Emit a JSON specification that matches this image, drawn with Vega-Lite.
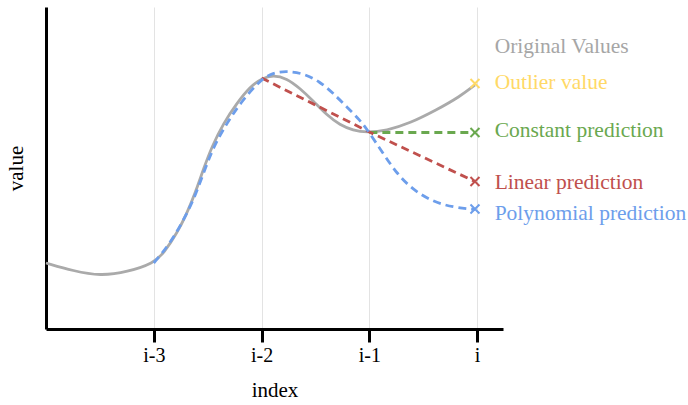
{
  "$schema": "https://vega.github.io/schema/vega-lite/v6.json",
  "width": 457,
  "height": 322,
  "autosize": {"type": "none"},
  "padding": {"left": 46, "top": 7, "right": 185, "bottom": 76},
  "background": "white",
  "config": {
    "view": {"stroke": null},
    "font": "Liberation Serif",
    "text": {"font": "Liberation Serif"}
  },
  "datasets": {
    "curves": [
      {"series": "orig", "idx": -4.0, "v": 66},
      {"series": "orig", "idx": -3.745, "v": 58},
      {"series": "orig", "idx": -3.495, "v": 53},
      {"series": "orig", "idx": -3.245, "v": 57},
      {"series": "orig", "idx": -3.0, "v": 66},
      {"series": "orig", "idx": -2.909, "v": 75.7},
      {"series": "orig", "idx": -2.785, "v": 95.7},
      {"series": "orig", "idx": -2.693, "v": 115.7},
      {"series": "orig", "idx": -2.616, "v": 135.7},
      {"series": "orig", "idx": -2.539, "v": 160},
      {"series": "orig", "idx": -2.461, "v": 182.3},
      {"series": "orig", "idx": -2.354, "v": 205.7},
      {"series": "orig", "idx": -2.23, "v": 225.7},
      {"series": "orig", "idx": -2.106, "v": 242.3},
      {"series": "orig", "idx": -1.998, "v": 250.7},
      {"series": "orig", "idx": -1.891, "v": 254},
      {"series": "orig", "idx": -1.767, "v": 250.7},
      {"series": "orig", "idx": -1.644, "v": 240.7},
      {"series": "orig", "idx": -1.52, "v": 228},
      {"series": "orig", "idx": -1.396, "v": 214},
      {"series": "orig", "idx": -1.273, "v": 204},
      {"series": "orig", "idx": -1.15, "v": 198.6},
      {"series": "orig", "idx": -1.026, "v": 196.5},
      {"series": "orig", "idx": -0.841, "v": 198.3},
      {"series": "orig", "idx": -0.625, "v": 205.7},
      {"series": "orig", "idx": -0.378, "v": 219},
      {"series": "orig", "idx": -0.162, "v": 232.3},
      {"series": "orig", "idx": -0.02, "v": 244},
      {"series": "poly", "idx": -3.0, "v": 66},
      {"series": "poly", "idx": -2.847, "v": 85.7},
      {"series": "poly", "idx": -2.724, "v": 109},
      {"series": "poly", "idx": -2.631, "v": 129},
      {"series": "poly", "idx": -2.539, "v": 155.7},
      {"series": "poly", "idx": -2.446, "v": 182.3},
      {"series": "poly", "idx": -2.322, "v": 205.7},
      {"series": "poly", "idx": -2.199, "v": 225.7},
      {"series": "poly", "idx": -2.014, "v": 249},
      {"series": "poly", "idx": -1.894, "v": 256.3},
      {"series": "poly", "idx": -1.767, "v": 258},
      {"series": "poly", "idx": -1.613, "v": 255.7},
      {"series": "poly", "idx": -1.458, "v": 247.3},
      {"series": "poly", "idx": -1.335, "v": 235.7},
      {"series": "poly", "idx": -1.211, "v": 222.3},
      {"series": "poly", "idx": -1.088, "v": 209},
      {"series": "poly", "idx": -1.011, "v": 198},
      {"series": "poly", "idx": -0.872, "v": 175.7},
      {"series": "poly", "idx": -0.748, "v": 155.7},
      {"series": "poly", "idx": -0.594, "v": 139},
      {"series": "poly", "idx": -0.409, "v": 127.3},
      {"series": "poly", "idx": -0.224, "v": 121.7},
      {"series": "poly", "idx": -0.02, "v": 119.5},
      {"series": "lin", "idx": -2.0, "v": 251},
      {"series": "lin", "idx": -1.0, "v": 197},
      {"series": "lin", "idx": -0.02, "v": 147.5},
      {"series": "const", "idx": -1.0, "v": 196.5},
      {"series": "const", "idx": -0.02, "v": 196.5}
    ],
    "markers": [
      {"label": "Outlier value", "idx": -0.02, "v": 245.5},
      {"label": "Constant prediction", "idx": -0.02, "v": 196.5},
      {"label": "Linear prediction", "idx": -0.02, "v": 147.5},
      {"label": "Polynomial prediction", "idx": -0.02, "v": 120}
    ],
    "labels": [
      {"label": "Original Values", "idx": 0, "v": 282},
      {"label": "Outlier value", "idx": 0, "v": 246},
      {"label": "Constant prediction", "idx": 0, "v": 198},
      {"label": "Linear prediction", "idx": 0, "v": 146},
      {"label": "Polynomial prediction", "idx": 0, "v": 115}
    ]
  },
  "encoding": {
    "x": {
      "field": "idx", "type": "quantitative",
      "scale": {"domain": [-4, 0.24], "nice": false, "zero": false},
      "axis": {
        "values": [-3, -2, -1, 0],
        "labelExpr": "datum.value == 0 ? 'i' : 'i' + datum.value",
        "title": "index",
        "grid": true, "gridColor": "#e3e3e3", "gridWidth": 1,
        "domainColor": "black", "domainWidth": 3,
        "tickColor": "black", "tickWidth": 3, "tickSize": 13,
        "labelFont": "Liberation Serif", "labelFontSize": 20, "labelColor": "black", "labelPadding": 3,
        "titleFont": "Liberation Serif", "titleFontSize": 21, "titleFontWeight": "normal", "titleColor": "black", "titlePadding": 14
      }
    },
    "y": {
      "field": "v", "type": "quantitative",
      "scale": {"domain": [0, 322], "nice": false, "zero": false},
      "axis": {
        "title": "value", "grid": false, "ticks": false, "labels": false,
        "domainColor": "black", "domainWidth": 3,
        "titleFont": "Liberation Serif", "titleFontSize": 21, "titleFontWeight": "normal", "titleColor": "black", "titlePadding": 20
      }
    }
  },
  "layer": [
    {
      "data": {"name": "curves"},
      "transform": [{"filter": "datum.series == 'orig'"}],
      "mark": {"type": "line", "color": "#aaaaaa", "strokeWidth": 2.8, "interpolate": "basis"}
    },
    {
      "data": {"name": "curves"},
      "transform": [{"filter": "datum.series == 'const'"}],
      "mark": {"type": "line", "color": "#6aa84f", "strokeWidth": 2.8, "strokeDash": [8, 5]}
    },
    {
      "data": {"name": "curves"},
      "transform": [{"filter": "datum.series == 'lin'"}],
      "mark": {"type": "line", "color": "#c0504d", "strokeWidth": 2.8, "strokeDash": [8, 5]}
    },
    {
      "data": {"name": "curves"},
      "transform": [{"filter": "datum.series == 'poly'"}],
      "mark": {"type": "line", "color": "#6d9eeb", "strokeWidth": 2.8, "strokeDash": [8, 5], "interpolate": "basis"}
    },
    {
      "data": {"name": "markers"},
      "mark": {"type": "point", "shape": "M-1,-1L1,1M-1,1L1,-1", "size": 81, "strokeWidth": 2, "filled": false, "opacity": 1},
      "encoding": {
        "color": {
          "field": "label", "type": "nominal", "legend": null,
          "scale": {
            "domain": ["Original Values", "Outlier value", "Constant prediction", "Linear prediction", "Polynomial prediction"],
            "range": ["#a6a6a6", "#ffd966", "#6aa84f", "#c0504d", "#6d9eeb"]
          }
        }
      }
    },
    {
      "data": {"name": "labels"},
      "mark": {"type": "text", "align": "left", "baseline": "middle", "dx": 17.5, "font": "Liberation Serif", "fontSize": 21.5},
      "encoding": {
        "text": {"field": "label"},
        "color": {
          "field": "label", "type": "nominal", "legend": null,
          "scale": {
            "domain": ["Original Values", "Outlier value", "Constant prediction", "Linear prediction", "Polynomial prediction"],
            "range": ["#a6a6a6", "#ffd966", "#6aa84f", "#c0504d", "#6d9eeb"]
          }
        }
      }
    }
  ]
}
